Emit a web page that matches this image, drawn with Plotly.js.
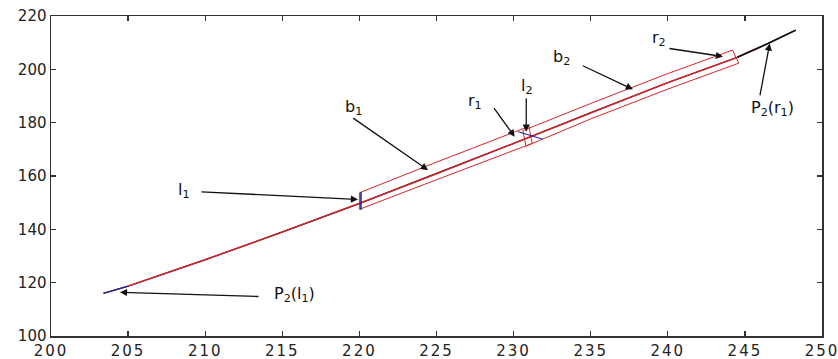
<!DOCTYPE html>
<html>
<head>
<meta charset="utf-8">
<script src="https://cdn.plot.ly/plotly-3.0.1.min.js"></script>
<style>
html,body{margin:0;padding:0;background:#fff;}
#chart{width:838px;height:359px;}
.xtick text{letter-spacing:2px;}
</style>
</head>
<body>
<div id="chart"></div>
<script>
// Main curve
const curveX = [203.4, 205, 210, 215, 220, 225, 230, 235, 240, 244.5, 246.5, 248.3];
const curveY = [116.0, 118.7, 128.6, 139.0, 149.7, 160.8, 172.2, 183.8, 195.0, 204.5, 209.7, 214.7];
// Coloured pieces of the curve
const redX = [205, 210, 215, 220, 225, 230, 235, 240, 244.5, 246.0];
const redY = [118.7, 128.6, 139.0, 149.7, 160.8, 172.2, 183.8, 195.0, 204.5, 208.4];
const blackX = [244.5, 246.5, 248.3];
const blackY = [204.5, 209.7, 214.7];
const startBlueX = [203.4, 205.0];
const startBlueY = [116.0, 118.7];
// Boxes b1 and b2 (closed outlines)
const b1X = [220, 225, 231, 231.2, 225, 220, 220];
const b1Y = [153.7, 165.2, 178.6, 172.2, 158.6, 147.5, 153.7];
const b2X = [230.6, 235, 240, 244.2, 244.6, 240, 235, 230.8, 230.6];
const b2Y = [177.0, 187.2, 198.4, 207.2, 202.3, 192.6, 181.4, 171.2, 177.0];
// Blue end markers l1 and l2
const l1X = [220.1, 220.1];
const l1Y = [147.3, 154.0];
const l2X = [230.3, 231.9];
const l2Y = [176.6, 173.8];
// Labels
const labelText = ['b<sub>1</sub>', 'l<sub>1</sub>', 'P<sub>2</sub>(l<sub>1</sub>)', 'r<sub>1</sub>', 'l<sub>2</sub>', 'b<sub>2</sub>', 'r<sub>2</sub>', 'P<sub>2</sub>(r<sub>1</sub>)'];
const labelX = [219.6, 208.6, 215.8, 227.5, 230.9, 233.1, 239.4, 246.8];
const labelY = [185.6, 154.4, 115.7, 188.0, 193.5, 204.6, 211.6, 185.2];
// Arrows (tail -> tip)
const tailX = [219.5, 209.66, 213.55, 228.66, 230.82, 234.39, 240.01, 245.96];
const tailY = [182.1, 154.1, 114.8, 186.0, 189.7, 201.6, 207.9, 189.7];
const tipX = [224.45, 219.91, 204.47, 230.07, 230.82, 237.74, 243.58, 246.61];
const tipY = [162.2, 151.2, 116.4, 174.7, 176.6, 192.5, 204.8, 209.7];
// Axis ticks
const xTicks = [200, 205, 210, 215, 220, 225, 230, 235, 240, 245, 250];
const yTicks = [100, 120, 140, 160, 180, 200, 220];

const RED = '#d4262c';
const BLUE = '#1a2a9a';
const traces = [
  {x: b1X, y: b1Y, mode: 'lines', line: {color: RED, width: 1}, hoverinfo: 'skip'},
  {x: b2X, y: b2Y, mode: 'lines', line: {color: RED, width: 1}, hoverinfo: 'skip'},
  {x: curveX, y: curveY, mode: 'lines', line: {color: '#5a1010', width: 1.4}, hoverinfo: 'skip'},
  {x: redX, y: redY, mode: 'lines', line: {color: RED, width: 1.3}, hoverinfo: 'skip'},
  {x: blackX, y: blackY, mode: 'lines', line: {color: '#111', width: 1.6}, hoverinfo: 'skip'},
  {x: startBlueX, y: startBlueY, mode: 'lines', line: {color: BLUE, width: 1.4}, hoverinfo: 'skip'},
  {x: l1X, y: l1Y, mode: 'lines', line: {color: BLUE, width: 1.6}, hoverinfo: 'skip'},
  {x: l2X, y: l2Y, mode: 'lines', line: {color: BLUE, width: 1.2}, hoverinfo: 'skip'}
];

const annotations = [];
for (let i = 0; i < labelText.length; i++) {
  annotations.push({
    x: labelX[i], y: labelY[i], xref: 'x', yref: 'y', text: labelText[i],
    showarrow: false, font: {family: 'DejaVu Sans, Arial, sans-serif', size: 16, color: '#111'}
  });
  annotations.push({
    x: tipX[i], y: tipY[i], ax: tailX[i], ay: tailY[i], xref: 'x', yref: 'y', axref: 'x', ayref: 'y',
    text: '', showarrow: true, arrowhead: 2, arrowsize: 1.1, arrowwidth: 1.3, arrowcolor: '#111'
  });
}

const axisCommon = {
  showgrid: false, zeroline: false, showline: true, linecolor: '#333', linewidth: 1.5,
  mirror: 'ticks', ticks: 'inside', ticklen: 5, tickwidth: 1.3, tickcolor: '#333',
  ticklabeloverflow: 'allow'
};

const layout = {
  width: 838, height: 359,
  margin: {l: 51, r: 16, t: 16, b: 23, pad: 0},
  paper_bgcolor: '#fff', plot_bgcolor: '#fff',
  showlegend: false,
  xaxis: Object.assign({}, axisCommon, {range: [200, 250], tickvals: xTicks, ticktext: xTicks.map(String),
    tickfont: {family: 'DejaVu Sans, Arial, sans-serif', size: 15, color: '#222'}}),
  yaxis: Object.assign({}, axisCommon, {range: [100, 220], tickvals: yTicks, ticktext: yTicks.map(String),
    tickfont: {family: 'DejaVu Sans, Arial, sans-serif', size: 15, color: '#222'}}),
  annotations: annotations
};

Plotly.newPlot('chart', traces, layout, {staticPlot: true, displayModeBar: false});
</script>
</body>
</html>
